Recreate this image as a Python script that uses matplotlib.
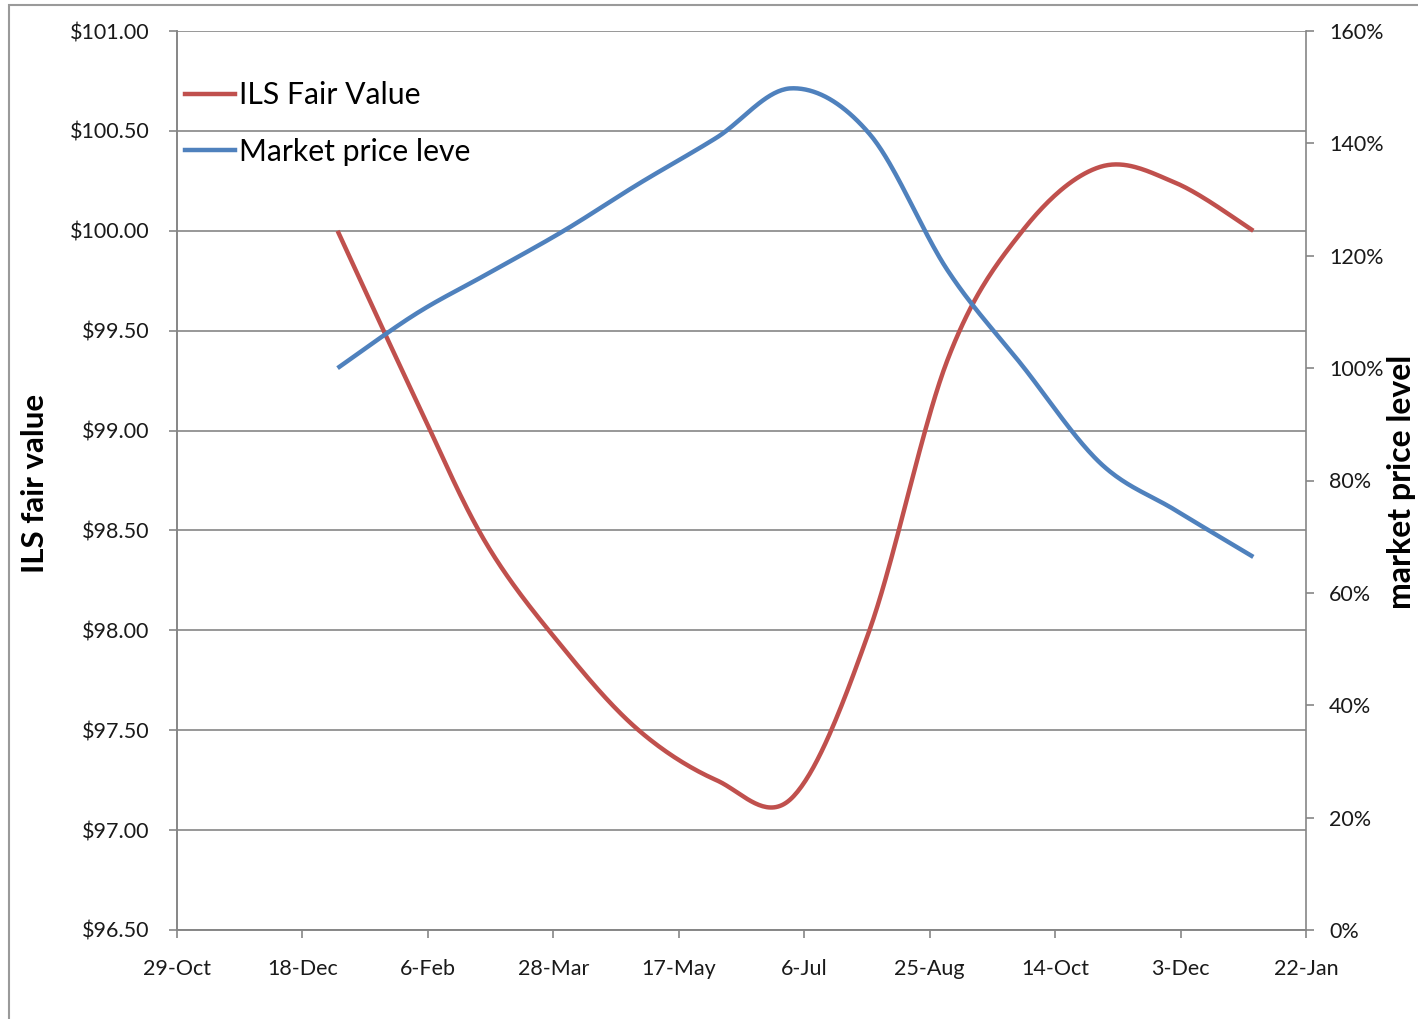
from datetime import date

import matplotlib

matplotlib.use("Agg")
import matplotlib.dates as mdates
import matplotlib.pyplot as plt
import numpy as np
from matplotlib.lines import Line2D
from matplotlib.patches import Rectangle
from matplotlib.ticker import FuncFormatter, MultipleLocator

# Monthly observations (first of each month)
datoer = [
    date(2009, 1, 1), date(2009, 2, 1), date(2009, 3, 1), date(2009, 4, 1),
    date(2009, 5, 1), date(2009, 6, 1), date(2009, 7, 1), date(2009, 8, 1),
    date(2009, 9, 1), date(2009, 10, 1), date(2009, 11, 1), date(2009, 12, 1),
    date(2010, 1, 1),
]
ils_fair_value = [100.00, 99.16, 98.44, 97.91, 97.50, 97.25, 97.16,
                  98.00, 99.35, 100.00, 100.32, 100.24, 100.00]
market_price_level = [1.00, 1.096, 1.166, 1.244, 1.328, 1.41, 1.498,
                      1.417, 1.175, 1.004, 0.831, 0.747, 0.664]

x_start = date(2008, 10, 29)
x_slutt = date(2010, 1, 22)

ROD = "#C0504D"
BLA = "#4F81BD"
GRA = "#868686"
TEKST = "#1a1a1a"
FONT = "Lato"


def excel_glatt(x, y, n=40):
    """Excel-lignende glatting: Bezier med kontrollpunkter P1 + (P2 - P0) / 6."""
    p = np.column_stack([x, y]).astype(float)
    deler = []
    for i in range(len(p) - 1):
        p0 = p[i - 1] if i > 0 else p[i]
        p1, p2 = p[i], p[i + 1]
        p3 = p[i + 2] if i + 2 < len(p) else p[i + 1]
        c1 = p1 + (p2 - p0) / 6
        c2 = p2 - (p3 - p1) / 6
        t = np.linspace(0, 1, n)[:, None]
        seg = (1 - t) ** 3 * p1 + 3 * (1 - t) ** 2 * t * c1 + 3 * (1 - t) * t ** 2 * c2 + t ** 3 * p2
        deler.append(seg if i == 0 else seg[1:])
    kurve = np.vstack(deler)
    return kurve[:, 0], kurve[:, 1]


def main() -> None:
    plt.rcParams["font.family"] = [FONT, "DejaVu Sans"]

    fig = plt.figure(figsize=(14.18, 10.19), dpi=100)
    fig.patches.append(Rectangle((9 / 1418, -0.1), 1.2, 1.1 - 5 / 1019, transform=fig.transFigure,
                                 fill=False, edgecolor="#9a9a9a", linewidth=1.5))

    ax = fig.add_axes([177 / 1418, 1 - 930 / 1019, (1306 - 177) / 1418, (930 - 31) / 1019])
    ax2 = ax.twinx()

    xnum = mdates.date2num(datoer)
    rx, ry = excel_glatt(xnum, ils_fair_value)
    bx, by = excel_glatt(xnum, market_price_level)

    ax.plot(rx, ry, color=ROD, linewidth=3.2, solid_capstyle="butt", zorder=3)
    ax2.plot(bx, by, color=BLA, linewidth=3.2, solid_capstyle="butt", zorder=3)

    ax.set_xlim(mdates.date2num(x_start), mdates.date2num(x_slutt))
    ax.set_ylim(96.5, 101.0)
    ax2.set_ylim(0, 1.6)

    xticks = np.arange(mdates.date2num(x_start), mdates.date2num(x_slutt) + 1, 50)
    ax.set_xticks(xticks)
    ax.set_xticklabels([f"{mdates.num2date(v).day}-{mdates.num2date(v).strftime('%b')}" for v in xticks])

    ax.yaxis.set_major_locator(MultipleLocator(0.5))
    ax.yaxis.set_major_formatter(FuncFormatter(lambda v, _: f"${v:.2f}"))
    ax2.yaxis.set_major_locator(MultipleLocator(0.2))
    ax2.yaxis.set_major_formatter(FuncFormatter(lambda v, _: f"{v * 100:.0f}%"))

    ax.grid(axis="y", color=GRA, linewidth=1.2)
    ax.set_axisbelow(True)

    for a in (ax, ax2):
        a.spines["top"].set_visible(False)
        for side in ("left", "right", "bottom"):
            a.spines[side].set_color(GRA)
            a.spines[side].set_linewidth(1.2)
    ax.spines["right"].set_visible(False)

    ax.tick_params(axis="y", direction="out", length=6, width=1.2, color=GRA, pad=14,
                   labelsize=15.5, labelcolor=TEKST)
    ax.tick_params(axis="x", direction="out", length=6, width=1.2, color=GRA, pad=15,
                   labelsize=15.5, labelcolor=TEKST)
    ax2.tick_params(axis="y", direction="out", length=6, width=1.2, color=GRA, pad=10.5,
                    labelsize=15.5, labelcolor=TEKST)

    fig.text(35 / 1418, 1 - 483 / 1019, "ILS fair value", rotation=90, ha="center", va="center",
             fontsize=22.5, fontweight="bold", color="black")
    fig.text(1402 / 1418, 1 - 482 / 1019, "market price level", rotation=90, ha="center", va="center",
             fontsize=23, fontweight="bold", color="black")

    handles = [
        Line2D([], [], color=ROD, linewidth=3.2),
        Line2D([], [], color=BLA, linewidth=3.2),
    ]
    ax2.legend(handles, ["ILS Fair Value", "Market price leve"], loc="upper left",
               bbox_to_anchor=(8 / 1129, 0.944), frameon=False, fontsize=21.7, handlelength=1.65,
               handletextpad=0.15, labelspacing=0.95, borderaxespad=0, borderpad=0,
               labelcolor="black")

    fig.savefig("out.png", dpi=100)
    plt.close(fig)


if __name__ == "__main__":
    main()
